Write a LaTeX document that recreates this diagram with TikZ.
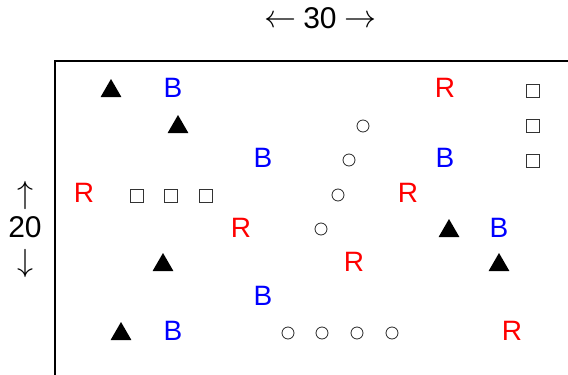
\RequirePackage{fix-cm}
\documentclass[tikz,border=0pt]{standalone}
\usepackage{fontspec}
\setmainfont{Liberation Sans}
\usetikzlibrary{shapes.geometric}
\begin{document}
\begin{tikzpicture}[x=1pt,y=-1pt,
  lbl/.style={font=\fontsize{28}{30}\selectfont, inner sep=0pt},
  bl/.style={lbl, text=blue},
  rd/.style={lbl, text=red},
  dim/.style={font=\fontsize{30}{32}\selectfont, inner sep=0pt},
  arr/.style={font=\fontsize{32}{34}\selectfont, inner sep=0pt},
  tri/.style={regular polygon, regular polygon sides=3, fill=black, draw=none, minimum size=24pt, inner sep=0pt, yshift=-3pt},
  sq/.style={draw=black!80, line width=0.8pt, minimum size=12.5pt, inner sep=0pt},
  circ/.style={circle, draw=black!85, line width=0.8pt, minimum size=12pt, inner sep=0pt},
  frame/.style={line width=1.8pt}]
\useasboundingbox (0,0) rectangle (568,375);
% frame
\coordinate (fc) at (55,61);
\coordinate (fr) at (570,61);
\coordinate (fb) at (55,377);
\draw[frame] (fr) -- (fc) -- (fb);
% dimension labels
\node[arr] (la) at (280,22) {$\leftarrow$};
\node[dim] (thirty) at (320,18) {30};
\node[arr] (ra) at (360,22) {$\rightarrow$};
\node[arr] (up) at (25,195) {$\uparrow$};
\node[dim] (twenty) at (25,227) {20};
\node[arr] (down) at (25,263) {$\downarrow$};
% row 1
\node[tri] (t1) at (111,88) {};
\node[bl] (b1) at (173,88) {B};
\node[rd] (r1) at (445,88) {R};
\node[sq] (s1) at (533,91) {};
% row 2
\node[tri] (t2) at (178,124) {};
\node[circ] (c1) at (363,126) {};
\node[sq] (s2) at (533,126) {};
% row 3
\node[bl] (b2) at (263,158) {B};
\node[circ] (c2) at (349,160) {};
\node[bl] (b3) at (445,158) {B};
\node[sq] (s3) at (533,161) {};
% row 4
\node[rd] (r2) at (84,193) {R};
\node[sq] (s4) at (137,196) {};
\node[sq] (s5) at (171,196) {};
\node[sq] (s6) at (206,196) {};
\node[circ] (c3) at (338,195) {};
\node[rd] (r3) at (408,193) {R};
% row 5
\node[rd] (r4) at (241,228) {R};
\node[circ] (c4) at (321,229) {};
\node[tri] (t3) at (449,228) {};
\node[bl] (b4) at (499,228) {B};
% row 6
\node[tri] (t4) at (163,262) {};
\node[rd] (r5) at (354,262) {R};
\node[tri] (t5) at (499,262) {};
% row 7
\node[bl] (b5) at (263,296) {B};
% row 8
\node[tri] (t6) at (121,331) {};
\node[bl] (b6) at (173,331) {B};
\node[circ] (c5) at (288,333) {};
\node[circ] (c6) at (322,333) {};
\node[circ] (c7) at (357,333) {};
\node[circ] (c8) at (392,333) {};
\node[rd] (r6) at (512,331) {R};
\end{tikzpicture}
\end{document}
